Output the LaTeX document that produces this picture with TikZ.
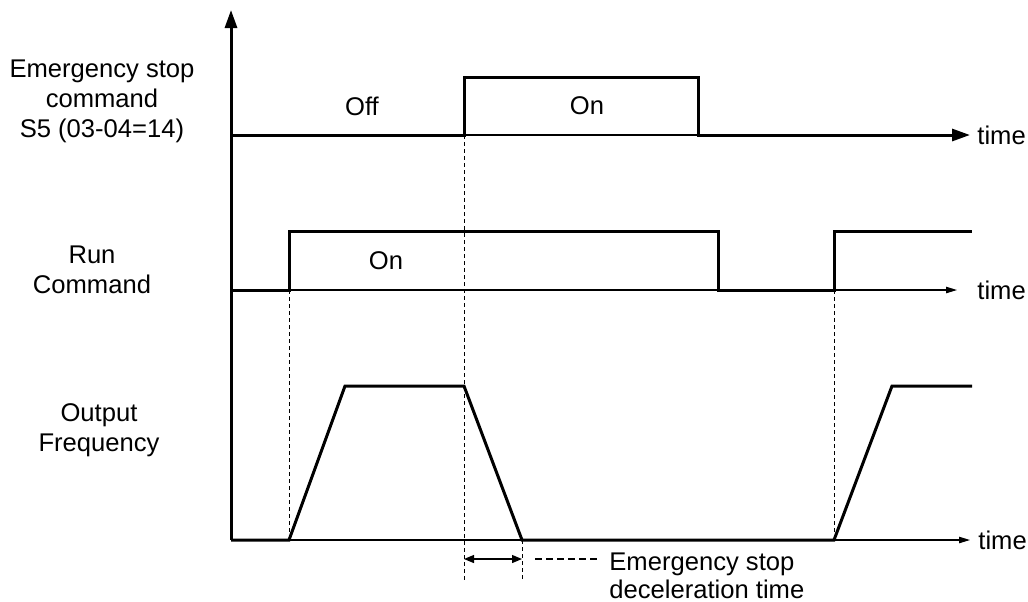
\documentclass[tikz,border=0pt]{standalone}
\usepackage{fontspec}
\setmainfont{Liberation Sans}
\usetikzlibrary{arrows.meta}

\begin{document}
\begin{tikzpicture}[x=0.5pt, y=-0.5pt, line join=miter,
    font=\fontsize{12.8}{15}\selectfont,
    wave/.style={line width=1.5pt},
    bigtip/.style={-{Triangle[length=9pt,width=6pt]}},
    taxis/.style={line width=0.6pt, -{Triangle[length=5.5pt,width=3.2pt]}},
    guide/.style={line width=0.5pt, dash pattern=on 2pt off 1.5pt},
    lbl/.style={align=center, anchor=north, inner sep=0pt},
    tlbl/.style={anchor=west, inner sep=0pt}]
  \useasboundingbox (0,0) rectangle (1028,601);
  % vertical axis
  \draw[wave, bigtip] (231,540) -- (231,10);
  % emergency stop command S5
  \draw[line width=0.6pt] (464,135) -- (698,135);
  \draw[wave, bigtip] (231,135) -| (464,77) -| (698,135) -- (970,135);
  % run command
  \draw[taxis] (289,290) -- (957,290);
  \draw[wave] (231,290) -| (289,231) -| (718,290) -- (834,290) |- (972,231);
  % output frequency
  \draw[taxis] (289,540) -- (970,540);
  \draw[wave] (231,540) -- (289,540) -- (345,386) -- (464,386) -- (522,540)
    -- (834,540) -- (892,386) -- (972,386);
  % dashed guides
  \draw[guide] (464,135) -- (464,582);
  \draw[guide] (289,290) -- (289,540);
  \draw[guide] (834,290) -- (834,540);
  \draw[guide] (522,540) -- (522,582);
  % deceleration time span
  \draw[line width=0.6pt, {Triangle[length=5pt,width=4pt]}-{Triangle[length=5pt,width=4pt]}]
    (464,559) -- (522,559);
  \draw[line width=1.2pt, dash pattern=on 3.6pt off 1.9pt] (535,559) -- (597,559);
  % labels
  \node[lbl] (esc) at (102,59) {Emergency stop\\command\\S5 (03-04=14)};
  \node[lbl] (runc) at (92,245) {Run\\Command};
  \node[lbl] (outf) at (99,403) {Output\\Frequency};
  \node (esoff) at (362,106) {Off};
  \node (eson) at (587,106) {On};
  \node (runon) at (386,261) {On};
  \node[tlbl] (tesc) at (977,135) {time};
  \node[tlbl] (trun) at (977,290) {time};
  \node[tlbl] (tout) at (978,540) {time};
  \node[anchor=north west, inner sep=0pt, align=left,
    font=\fontsize{12.8}{14}\selectfont] (edt) at (609,552)
    {Emergency stop\\deceleration time};
\end{tikzpicture}
\end{document}
